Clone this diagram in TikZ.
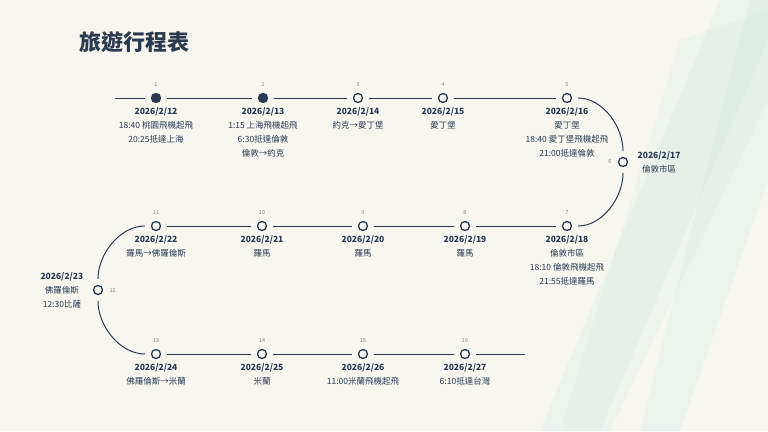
\documentclass[tikz,border=0pt]{standalone}
\usepackage{fontspec}
\setmainfont{Noto Sans CJK TC}
\usetikzlibrary{positioning}
\definecolor{bgpaper}{HTML}{F7F6F1}
\definecolor{navy}{HTML}{2B3A4E}
\definecolor{mint}{HTML}{CFE8E0}
\tikzset{
  stop/.style={circle,draw=navy,line width=1.3pt,fill=bgpaper,inner sep=0pt,minimum size=9pt},
  done/.style={stop,fill=navy},
  num/.style={font=\fontsize{5.5}{6}\selectfont,text=gray},
  info/.style={align=center,text=navy,font=\fontsize{8.5}{14}\selectfont},
  track/.style={navy,line width=1pt,shorten <=6pt,shorten >=6pt}
}
\newcommand{\dt}[1]{\textbf{#1}}
\begin{document}
\begin{tikzpicture}[x=1pt,y=1pt]
        \fill[bgpaper] (0,0) rectangle (768,-431);
        \useasboundingbox (0,0) rectangle (768,-431);
        %streaks
        \begin{scope}
        \clip (0,0) rectangle (768,-431);
        \fill[mint,opacity=0.25] (720,0) -- (768,0) -- (768,-40) -- (600,-431) -- (540,-431) -- cycle;
        \fill[mint,opacity=0.25] (750,0) -- (768,0) -- (768,-180) -- (680,-431) -- (640,-431) -- cycle;
        \fill[mint,opacity=0.2] (680,-40) -- (768,-10) -- (768,-100) -- (610,-431) -- (560,-431) -- cycle;
        \end{scope}
        %title
        \node[anchor=west,text=navy,font=\fontsize{22}{26}\selectfont\bfseries] (title) at (76,-42) {旅遊行程表};
        %nodes
        \coordinate (start) at (115,-98);
        \node[done] (n1) at (156,-98) {};
        \node[done] (n2) at (263,-98) {};
        \node[stop] (n3) at (358,-98) {};
        \node[stop] (n4) at (443,-98) {};
        \node[stop] (n5) at (567,-98) {};
        \node[stop] (n6) at (623,-162) {};
        \node[stop] (n7) at (567,-226) {};
        \node[stop] (n8) at (465,-226) {};
        \node[stop] (n9) at (363,-226) {};
        \node[stop] (n10) at (262,-226) {};
        \node[stop] (n11) at (156,-226) {};
        \node[stop] (n12) at (98,-290) {};
        \node[stop] (n13) at (156,-354) {};
        \node[stop] (n14) at (262,-354) {};
        \node[stop] (n15) at (363,-354) {};
        \node[stop] (n16) at (465,-354) {};
        \coordinate (finish) at (525,-354);
        %edges
        \draw[navy,line width=1pt,shorten >=6pt] (start) -- (n1);
        \draw[track] (n1) -- (n2);
        \draw[track] (n2) -- (n3);
        \draw[track] (n3) -- (n4);
        \draw[track] (n4) -- (n5);
        \draw[track] (n5) to[out=0,in=90] (n6);
        \draw[track] (n6) to[out=-90,in=0] (n7);
        \draw[track] (n7) -- (n8);
        \draw[track] (n8) -- (n9);
        \draw[track] (n9) -- (n10);
        \draw[track] (n10) -- (n11);
        \draw[track] (n11) to[out=180,in=90] (n12);
        \draw[track] (n12) to[out=-90,in=180] (n13);
        \draw[track] (n13) -- (n14);
        \draw[track] (n14) -- (n15);
        \draw[track] (n15) -- (n16);
        \draw[navy,line width=1pt,shorten <=6pt] (n16) -- (finish);
        %numbers
        \foreach \k in {1,2,3,4,5,7,8,9,10,11,13,14,15,16}
          \node[num,above=3pt of n\k] {\k};
        \node[num,left=3pt of n6] {6};
        \node[num,right=3pt of n12] {12};
        %labels
        \node[info,below=1pt of n1] (t1) {\dt{2026/2/12}\\18:40 桃園飛機起飛\\20:25抵達上海};
        \node[info,below=1pt of n2] (t2) {\dt{2026/2/13}\\1:15 上海飛機起飛\\6:30抵達倫敦\\倫敦→約克};
        \node[info,below=1pt of n3] (t3) {\dt{2026/2/14}\\約克→愛丁堡};
        \node[info,below=1pt of n4] (t4) {\dt{2026/2/15}\\愛丁堡};
        \node[info,below=1pt of n5] (t5) {\dt{2026/2/16}\\愛丁堡\\18:40 愛丁堡飛機起飛\\21:00抵達倫敦};
        \node[info,right=6pt of n6] (t6) {\dt{2026/2/17}\\倫敦市區};
        \node[info,below=1pt of n7] (t7) {\dt{2026/2/18}\\倫敦市區\\18:10 倫敦飛機起飛\\21:55抵達羅馬};
        \node[info,below=1pt of n8] (t8) {\dt{2026/2/19}\\羅馬};
        \node[info,below=1pt of n9] (t9) {\dt{2026/2/20}\\羅馬};
        \node[info,below=1pt of n10] (t10) {\dt{2026/2/21}\\羅馬};
        \node[info,below=1pt of n11] (t11) {\dt{2026/2/22}\\羅馬→佛羅倫斯};
        \node[info,left=6pt of n12] (t12) {\dt{2026/2/23}\\佛羅倫斯\\12:30比薩};
        \node[info,below=1pt of n13] (t13) {\dt{2026/2/24}\\佛羅倫斯→米蘭};
        \node[info,below=1pt of n14] (t14) {\dt{2026/2/25}\\米蘭};
        \node[info,below=1pt of n15] (t15) {\dt{2026/2/26}\\11:00米蘭飛機起飛};
        \node[info,below=1pt of n16] (t16) {\dt{2026/2/27}\\6:10抵達台灣};
\end{tikzpicture}
\end{document}
